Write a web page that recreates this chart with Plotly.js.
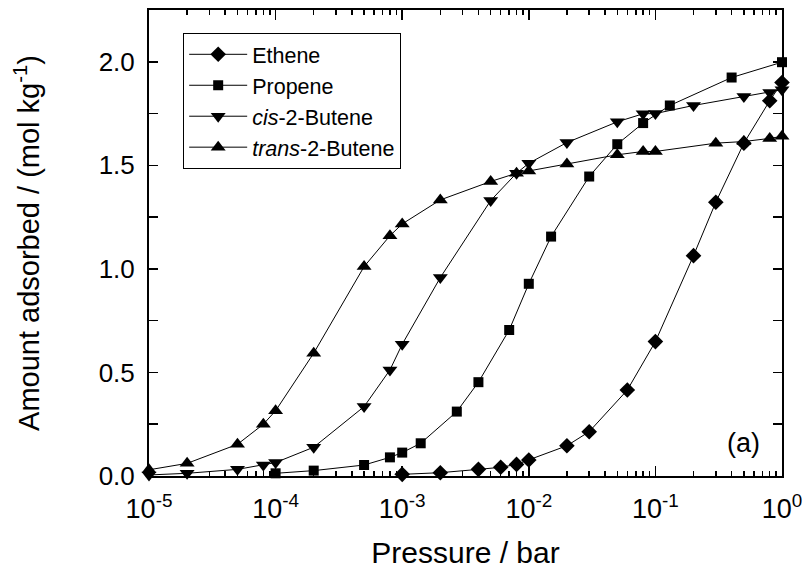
<!DOCTYPE html>
<html>
<head>
<meta charset="utf-8">
<script src="https://cdn.plot.ly/plotly-3.0.1.min.js"></script>
<style>html,body{margin:0;padding:0;background:#fff;}#chart{width:805px;height:569px;}</style>
</head>
<body>
<div id="chart"></div>
<script>
// Data (pressure in bar, amount in mol/kg)
const etheneP = [1e-3, 2e-3, 4e-3, 6e-3, 8e-3, 1e-2, 2e-2, 3e-2, 6e-2, 0.1, 0.2, 0.3, 0.5, 0.8, 1.0];
const etheneQ = [0.008, 0.016, 0.032, 0.042, 0.056, 0.077, 0.146, 0.214, 0.415, 0.649, 1.064, 1.322, 1.607, 1.812, 1.90];

const propeneP = [1e-4, 2e-4, 5e-4, 8e-4, 1e-3, 1.4e-3, 2.7e-3, 4e-3, 7e-3, 1e-2, 1.5e-2, 3e-2, 5e-2, 8e-2, 0.13, 0.4, 1.0];
const propeneQ = [0.013, 0.026, 0.053, 0.09, 0.113, 0.158, 0.311, 0.453, 0.705, 0.928, 1.156, 1.446, 1.602, 1.704, 1.789, 1.924, 1.998];

const cisP = [1e-5, 2e-5, 5e-5, 8e-5, 1e-4, 2e-4, 5e-4, 8e-4, 1e-3, 2e-3, 5e-3, 8e-3, 1e-2, 2e-2, 5e-2, 8e-2, 0.1, 0.2, 0.5, 0.8, 1.0];
const cisQ = [0.005, 0.013, 0.032, 0.053, 0.065, 0.139, 0.335, 0.512, 0.636, 0.958, 1.33, 1.462, 1.51, 1.61, 1.71, 1.749, 1.75, 1.789, 1.832, 1.852, 1.865];

const transP = [1e-5, 2e-5, 5e-5, 8e-5, 1e-4, 2e-4, 5e-4, 8e-4, 1e-3, 2e-3, 5e-3, 8e-3, 1e-2, 2e-2, 5e-2, 8e-2, 0.1, 0.3, 0.5, 0.8, 1.0];
const transQ = [0.03, 0.061, 0.153, 0.25, 0.315, 0.593, 1.011, 1.16, 1.217, 1.333, 1.422, 1.462, 1.473, 1.507, 1.551, 1.567, 1.567, 1.607, 1.615, 1.63, 1.64];

const seriesNames = ['Ethene', 'Propene', '<i>cis</i>-2-Butene', '<i>trans</i>-2-Butene'];
const xTickVals = [1e-5, 1e-4, 1e-3, 1e-2, 1e-1, 1];
const xTickText = ['10<sup>-5</sup>', '10<sup>-4</sup>', '10<sup>-3</sup>', '10<sup>-2</sup>', '10<sup>-1</sup>', '10<sup>0</sup>'];

const FONT = 'Liberation Sans, Arial, Helvetica, sans-serif';

function tr(x, y, name, symbol, size) {
  return {
    x: x, y: y, name: name, type: 'scatter', mode: 'lines+markers',
    line: {color: '#000', width: 1},
    marker: {symbol: symbol, size: size, color: '#000'},
    cliponaxis: false
  };
}

const data = [
  tr(etheneP, etheneQ, seriesNames[0], 'diamond', 12),
  tr(propeneP, propeneQ, seriesNames[1], 'square', 10),
  tr(cisP, cisQ, seriesNames[2], 'triangle-down', 13),
  tr(transP, transQ, seriesNames[3], 'triangle-up', 13)
];

const layout = {
  width: 805, height: 569,
  margin: {l: 149, r: 23, t: 10, b: 93},
  paper_bgcolor: '#fff', plot_bgcolor: '#fff',
  font: {family: FONT, color: '#000', size: 26},
  showlegend: true,
  legend: {
    x: 0.054, y: 0.951, xanchor: 'left', yanchor: 'top',
    bordercolor: '#000', borderwidth: 1, bgcolor: '#fff',
    font: {family: FONT, size: 21.5, color: '#000'},
    itemwidth: 58,
    tracegroupgap: 0
  },
  xaxis: {
    type: 'log', range: [-5, 0],
    tickmode: 'array', tickvals: xTickVals, ticktext: xTickText,
    ticks: 'inside', ticklen: 10, tickwidth: 1.5, tickcolor: '#000',
    minor: {ticks: 'inside', ticklen: 5, tickwidth: 1.5, tickcolor: '#000', dtick: 'D1', showgrid: false},
    showline: true, linewidth: 2, linecolor: '#000', mirror: 'allticks',
    showgrid: false, zeroline: false,
    ticklabelstandoff: 8,
    tickfont: {family: FONT, size: 27, color: '#000'},
    title: {text: 'Pressure / bar', font: {family: FONT, size: 30, color: '#000'}, standoff: 27}
  },
  yaxis: {
    range: [0, 2.25], dtick: 0.5, tick0: 0, tickformat: '.1f',
    ticks: 'inside', ticklen: 9, tickwidth: 1.5, tickcolor: '#000',
    minor: {ticks: 'inside', ticklen: 9, tickwidth: 1.5, tickcolor: '#000', dtick: 0.25, showgrid: false},
    showline: true, linewidth: 2, linecolor: '#000', mirror: 'allticks',
    showgrid: false, zeroline: false,
    ticklabelstandoff: 7,
    tickfont: {family: FONT, size: 26, color: '#000'},
    title: {text: 'Amount adsorbed / (mol kg<sup>-1</sup>)', font: {family: FONT, size: 29, color: '#000'}, standoff: 50}
  },
  annotations: [{
    text: '(a)', xref: 'paper', yref: 'paper', x: 0.968, y: 0.07,
    xanchor: 'right', yanchor: 'middle', showarrow: false,
    font: {family: FONT, size: 27, color: '#000'}
  }]
};

Plotly.newPlot('chart', data, layout, {displayModeBar: false, staticPlot: true});
</script>
</body>
</html>
